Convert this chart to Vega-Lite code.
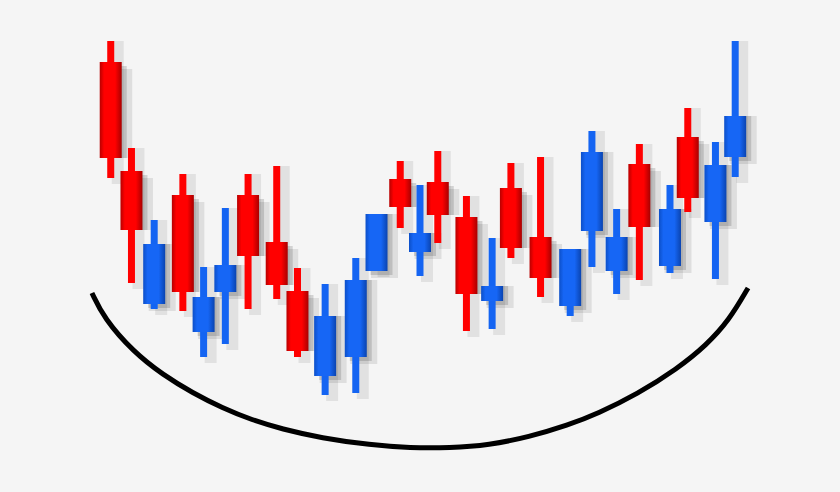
{
  "$schema": "https://vega.github.io/schema/vega-lite/v6.json",
  "width": 840,
  "height": 492,
  "autosize": {"type": "fit", "contains": "padding"},
  "padding": 0,
  "background": "#f5f5f5",
  "config": {"view": {"stroke": null}},
  "datasets": {
    "candles": [
      {"t": 10.7, "open": 43.0, "high": 45.1, "low": 31.4, "close": 33.4, "dir": "down"},
      {"t": 12.8, "open": 32.1, "high": 34.4, "low": 20.9, "close": 26.2, "dir": "down"},
      {"t": 15.1, "open": 18.8, "high": 27.2, "low": 18.3, "close": 24.8, "dir": "up"},
      {"t": 18.0, "open": 29.7, "high": 31.8, "low": 18.1, "close": 20.0, "dir": "down"},
      {"t": 20.1, "open": 16.0, "high": 22.5, "low": 13.5, "close": 19.5, "dir": "up"},
      {"t": 22.3, "open": 20.0, "high": 28.4, "low": 14.8, "close": 22.7, "dir": "up"},
      {"t": 24.6, "open": 29.7, "high": 31.8, "low": 18.3, "close": 23.6, "dir": "down"},
      {"t": 27.5, "open": 25.0, "high": 32.6, "low": 19.3, "close": 20.7, "dir": "down"},
      {"t": 29.6, "open": 20.1, "high": 22.4, "low": 13.5, "close": 14.1, "dir": "down"},
      {"t": 32.4, "open": 11.6, "high": 20.8, "low": 9.7, "close": 17.6, "dir": "up"},
      {"t": 35.5, "open": 13.5, "high": 23.4, "low": 9.9, "close": 21.2, "dir": "up"},
      {"t": 37.6, "open": 22.1, "high": 27.8, "low": 22.1, "close": 27.8, "dir": "up"},
      {"t": 40.0, "open": 31.3, "high": 33.1, "low": 26.4, "close": 28.5, "dir": "down"},
      {"t": 42.0, "open": 24.0, "high": 30.7, "low": 21.6, "close": 25.9, "dir": "up"},
      {"t": 43.8, "open": 31.0, "high": 34.1, "low": 24.9, "close": 27.7, "dir": "down"},
      {"t": 46.7, "open": 27.5, "high": 29.6, "low": 16.1, "close": 19.8, "dir": "down"},
      {"t": 49.3, "open": 19.1, "high": 25.4, "low": 16.3, "close": 20.6, "dir": "up"},
      {"t": 51.2, "open": 30.4, "high": 32.9, "low": 23.4, "close": 24.4, "dir": "down"},
      {"t": 54.2, "open": 25.5, "high": 33.5, "low": 19.5, "close": 21.4, "dir": "down"},
      {"t": 57.2, "open": 18.6, "high": 24.3, "low": 17.6, "close": 24.3, "dir": "up"},
      {"t": 59.4, "open": 26.1, "high": 36.1, "low": 22.5, "close": 34.0, "dir": "up"},
      {"t": 61.9, "open": 22.1, "high": 28.3, "low": 19.8, "close": 25.5, "dir": "up"},
      {"t": 64.2, "open": 32.8, "high": 34.8, "low": 21.2, "close": 26.5, "dir": "down"},
      {"t": 67.3, "open": 22.6, "high": 30.7, "low": 21.9, "close": 28.3, "dir": "up"},
      {"t": 69.1, "open": 35.5, "high": 38.4, "low": 28.0, "close": 29.4, "dir": "down"},
      {"t": 71.9, "open": 27.0, "high": 35.0, "low": 21.3, "close": 32.7, "dir": "up"},
      {"t": 73.9, "open": 33.5, "high": 45.1, "low": 31.5, "close": 37.6, "dir": "up"}
    ],
    "arc": [
      {"t": 8.8, "v": 19.9}, {"t": 10.0, "v": 17.4}, {"t": 13.0, "v": 14.0},
      {"t": 16.0, "v": 11.7}, {"t": 19.0, "v": 9.9}, {"t": 22.0, "v": 8.4},
      {"t": 25.0, "v": 7.2}, {"t": 28.0, "v": 6.3}, {"t": 32.0, "v": 5.4},
      {"t": 37.0, "v": 4.7}, {"t": 41.0, "v": 4.4}, {"t": 45.0, "v": 4.4},
      {"t": 49.0, "v": 4.7}, {"t": 53.0, "v": 5.5}, {"t": 57.0, "v": 6.7},
      {"t": 60.0, "v": 7.85}, {"t": 64.0, "v": 9.8}, {"t": 68.0, "v": 12.3},
      {"t": 71.0, "v": 14.7}, {"t": 73.3, "v": 17.2}, {"t": 75.2, "v": 20.4}
    ]
  },
  "layer": [
    {
      "data": {"name": "arc"},
      "mark": {"type": "line", "color": "#000000", "strokeWidth": 5, "interpolate": "basis"},
      "encoding": {
        "x": {"field": "t", "type": "quantitative", "scale": {"domain": [0, 84], "nice": false, "zero": false}, "axis": null},
        "y": {"field": "v", "type": "quantitative", "scale": {"domain": [0, 49.2], "nice": false, "zero": false}, "axis": null}
      }
    },
    {
      "data": {"name": "candles"},
      "mark": {"type": "bar", "size": 12, "color": "#000000", "opacity": 0.08, "xOffset": 7, "yOffset": 6},
      "encoding": {
        "x": {"field": "t", "type": "quantitative", "scale": {"domain": [0, 84], "nice": false, "zero": false}, "axis": null},
        "y": {"field": "low", "type": "quantitative", "scale": {"domain": [0, 49.2], "nice": false, "zero": false}, "axis": null},
        "y2": {"field": "high"}
      }
    },
    {
      "data": {"name": "candles"},
      "mark": {"type": "bar", "size": 27, "color": "#000000", "opacity": 0.09, "xOffset": 8, "yOffset": 7},
      "encoding": {
        "x": {"field": "t", "type": "quantitative", "scale": {"domain": [0, 84], "nice": false, "zero": false}, "axis": null},
        "y": {"field": "open", "type": "quantitative", "scale": {"domain": [0, 49.2], "nice": false, "zero": false}, "axis": null},
        "y2": {"field": "close"}
      }
    },
    {
      "data": {"name": "candles"},
      "mark": {"type": "bar", "size": 22, "color": "#000000", "opacity": 0.14, "xOffset": 5, "yOffset": 4},
      "encoding": {
        "x": {"field": "t", "type": "quantitative", "scale": {"domain": [0, 84], "nice": false, "zero": false}, "axis": null},
        "y": {"field": "open", "type": "quantitative", "scale": {"domain": [0, 49.2], "nice": false, "zero": false}, "axis": null},
        "y2": {"field": "close"}
      }
    },
    {
      "data": {"name": "candles"},
      "transform": [{"filter": "datum.dir === 'down'"}],
      "mark": {"type": "bar", "size": 7, "color": "#ff0000"},
      "encoding": {
        "x": {"field": "t", "type": "quantitative", "scale": {"domain": [0, 84], "nice": false, "zero": false}, "axis": null},
        "y": {"field": "low", "type": "quantitative", "scale": {"domain": [0, 49.2], "nice": false, "zero": false}, "axis": null},
        "y2": {"field": "high"}
      }
    },
    {
      "data": {"name": "candles"},
      "transform": [{"filter": "datum.dir === 'up'"}],
      "mark": {"type": "bar", "size": 7, "color": "#1464f2"},
      "encoding": {
        "x": {"field": "t", "type": "quantitative", "scale": {"domain": [0, 84], "nice": false, "zero": false}, "axis": null},
        "y": {"field": "low", "type": "quantitative", "scale": {"domain": [0, 49.2], "nice": false, "zero": false}, "axis": null},
        "y2": {"field": "high"}
      }
    },
    {
      "data": {"name": "candles"},
      "transform": [{"filter": "datum.dir === 'down'"}],
      "mark": {
        "type": "bar",
        "size": 22,
        "color": {
          "gradient": "linear", "x1": 0, "y1": 0, "x2": 1, "y2": 0,
          "stops": [
            {"offset": 0, "color": "#b80000"},
            {"offset": 0.2, "color": "#ff0000"},
            {"offset": 0.7, "color": "#ff0000"},
            {"offset": 1, "color": "#a80000"}
          ]
        }
      },
      "encoding": {
        "x": {"field": "t", "type": "quantitative", "scale": {"domain": [0, 84], "nice": false, "zero": false}, "axis": null},
        "y": {"field": "open", "type": "quantitative", "scale": {"domain": [0, 49.2], "nice": false, "zero": false}, "axis": null},
        "y2": {"field": "close"}
      }
    },
    {
      "data": {"name": "candles"},
      "transform": [{"filter": "datum.dir === 'up'"}],
      "mark": {
        "type": "bar",
        "size": 22,
        "color": {
          "gradient": "linear", "x1": 0, "y1": 0, "x2": 1, "y2": 0,
          "stops": [
            {"offset": 0, "color": "#0c4fc8"},
            {"offset": 0.2, "color": "#1666f5"},
            {"offset": 0.7, "color": "#1666f5"},
            {"offset": 1, "color": "#0a44b0"}
          ]
        }
      },
      "encoding": {
        "x": {"field": "t", "type": "quantitative", "scale": {"domain": [0, 84], "nice": false, "zero": false}, "axis": null},
        "y": {"field": "open", "type": "quantitative", "scale": {"domain": [0, 49.2], "nice": false, "zero": false}, "axis": null},
        "y2": {"field": "close"}
      }
    }
  ]
}
